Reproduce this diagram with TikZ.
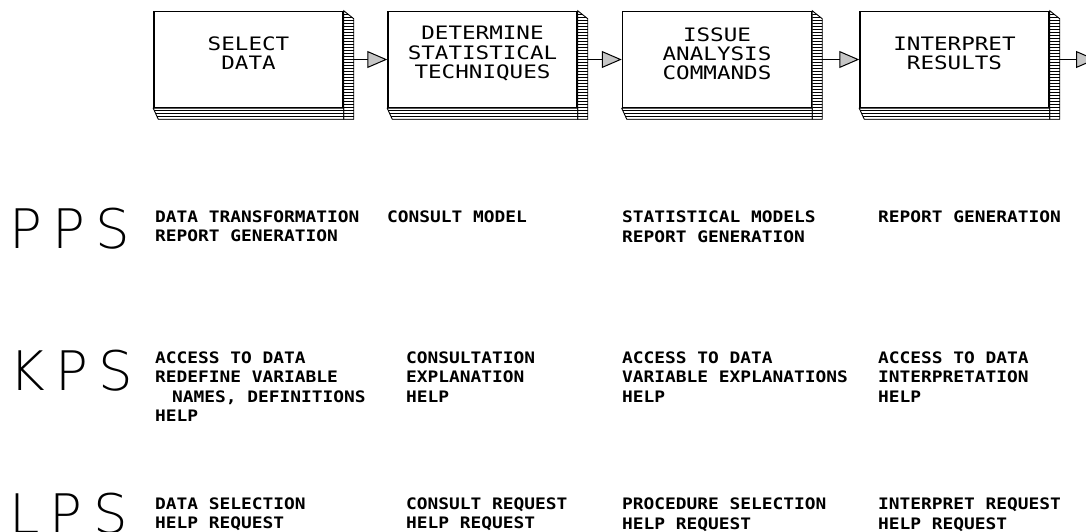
\documentclass[tikz,border=0pt]{standalone}
\usepackage{fontspec}
\usepackage{tikz}
\usetikzlibrary{arrows.meta,patterns}
\newfontfamily\boxfont{DejaVu Sans Mono}[FakeStretch=1.22]
\newfontfamily\rowfont{DejaVu Sans Mono}[FakeStretch=1.13]
\newfontfamily\tagfont{DejaVu Sans ExtraLight}[LetterSpace=19]

\begin{document}
\begin{tikzpicture}[x=1pt,y=-1pt,
  stepbox/.style={draw,line width=1.5pt,fill=white,minimum width=189pt,minimum height=96pt,inner sep=0pt},
  steptext/.style={align=center,inner sep=0pt,yshift=6pt,font=\boxfont\fontsize{18.5}{19.2}\selectfont},
  pages/.style={line width=0.9pt,pattern=horizontal lines},
  flow/.style={line width=1.1pt,-{Triangle[length=20pt,width=17pt,fill=gray!45,line width=1pt]}},
  tag/.style={anchor=north west,inner sep=0pt,font=\tagfont\fontsize{54.5}{60}\selectfont},
  entry/.style={anchor=north west,inner sep=0pt,align=left,font=\rowfont\bfseries\fontsize{15.8}{19.4}\selectfont}]
\path[use as bounding box,fill=white] (0,0) rectangle (1086,531);

% steps of the analysis
\node[stepbox] (sel) at (248.5,59.5) {};
\node[stepbox] (tech) at (482.5,59.5) {};
\node[stepbox] (cmd) at (717,59.5) {};
\node[stepbox] (res) at (954.5,59.5) {};
\node[steptext] (selT) at (sel) {SELECT\\DATA};
\node[steptext] (techT) at (tech) {DETERMINE\\STATISTICAL\\TECHNIQUES};
\node[steptext] (cmdT) at (cmd) {ISSUE\\ANALYSIS\\COMMANDS};
\node[steptext] (resT) at (res) {INTERPRET\\RESULTS};
\coordinate (next) at (1096,59.5);

\draw[pages] (sel.north east) -- ++(10,8) |- ([yshift=-11pt]sel.south east) -- cycle;
\draw[pages] (sel.south west) -- ++(5,11) -| (sel.south east) -- cycle;
\draw[pages] (tech.north east) -- ++(10,8) |- ([yshift=-11pt]tech.south east) -- cycle;
\draw[pages] (tech.south west) -- ++(5,11) -| (tech.south east) -- cycle;
\draw[pages] (cmd.north east) -- ++(10,8) |- ([yshift=-11pt]cmd.south east) -- cycle;
\draw[pages] (cmd.south west) -- ++(5,11) -| (cmd.south east) -- cycle;
\draw[pages] (res.north east) -- ++(10,8) |- ([yshift=-11pt]res.south east) -- cycle;
\draw[pages] (res.south west) -- ++(5,11) -| (res.south east) -- cycle;

\draw[flow] ([xshift=10pt]sel.east) -- (tech.west);
\draw[flow] ([xshift=10pt]tech.east) -- (cmd.west);
\draw[flow] ([xshift=10pt]cmd.east) -- (res.west);
\draw[flow] ([xshift=10pt]res.east) -- (next);

% PPS
\node[tag] (pps) at (9,207.5) {PPS};
\node[entry] (ppsA) at (155,210.5) {DATA TRANSFORMATION\\REPORT GENERATION};
\node[entry] (ppsB) at (387,210.5) {CONSULT MODEL};
\node[entry] (ppsC) at (622,211) {STATISTICAL MODELS\\REPORT GENERATION};
\node[entry] (ppsD) at (878,211) {REPORT GENERATION};

% KPS
\node[tag] (kps) at (9,350) {KPS};
\node[entry] (kpsA) at (155,351.5) {ACCESS TO DATA\\REDEFINE VARIABLE\\\hspace*{17pt}NAMES, DEFINITIONS\\HELP};
\node[entry] (kpsB) at (406,351.5) {CONSULTATION\\EXPLANATION\\HELP};
\node[entry] (kpsC) at (622,351.5) {ACCESS TO DATA\\VARIABLE EXPLANATIONS\\HELP};
\node[entry] (kpsD) at (878,351.5) {ACCESS TO DATA\\INTERPRETATION\\HELP};

% LPS
\node[tag] (lps) at (9,492.5) {LPS};
\node[entry] (lpsA) at (155,497.5) {DATA SELECTION\\HELP REQUEST};
\node[entry] (lpsB) at (406,497.5) {CONSULT REQUEST\\HELP REQUEST};
\node[entry] (lpsC) at (622,498) {PROCEDURE SELECTION\\HELP REQUEST};
\node[entry] (lpsD) at (878,498) {INTERPRET REQUEST\\HELP REQUEST};
\end{tikzpicture}
\end{document}
